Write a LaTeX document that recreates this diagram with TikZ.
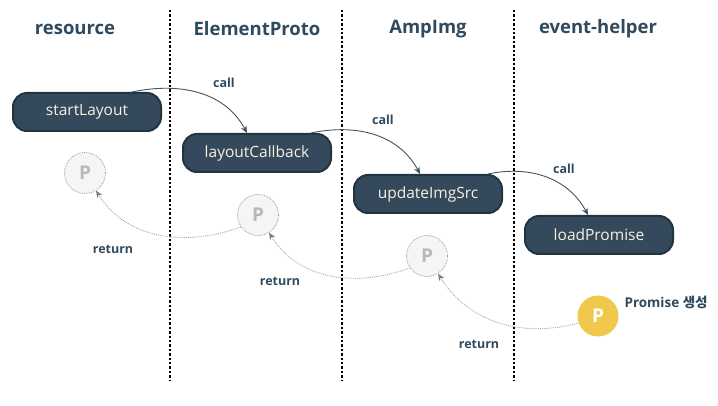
\documentclass[tikz,border=0pt]{standalone}
\usepackage{fontspec}
\setmainfont{Open Sans}
\newfontfamily\krfont{Noto Sans CJK KR}
\usetikzlibrary{arrows.meta}
\definecolor{slate}{HTML}{34495B}
\definecolor{slateedge}{HTML}{22343F}
\definecolor{titlecol}{HTML}{2F4A5E}
\definecolor{boxtext}{HTML}{F7F2E2}
\definecolor{callcol}{HTML}{3D5566}
\definecolor{retcol}{HTML}{A0AAB0}
\definecolor{rettip}{HTML}{6E7F8A}
\definecolor{pyellow}{HTML}{F0C94C}
\tikzset{
  x=1pt, y=-1pt,
  lane/.style={line width=2.6pt, dash pattern=on 2.4pt off 2pt, black},
  title/.style={font=\fontsize{18.5}{20}\selectfont\bfseries, text=titlecol},
  fn/.style={draw=slateedge, line width=2pt, fill=slate, rounded corners=14pt,
    minimum width=148pt, minimum height=38pt, text=boxtext, font=\fontsize{15.5}{17}\selectfont},
  pgray/.style={circle, draw=gray!80, densely dotted, line width=0.8pt, fill=black!4,
    minimum size=41pt, inner sep=0pt, text=black!28, font=\fontsize{19}{19}\selectfont\bfseries},
  pyel/.style={circle, fill=pyellow, minimum size=41pt, inner sep=0pt, text=white,
    font=\fontsize{19}{19}\selectfont\bfseries},
  callarr/.style={draw=callcol, line width=0.9pt, -{Stealth[length=7pt,width=6pt]}},
  retarr/.style={draw=retcol, line width=0.9pt, densely dotted, -{Stealth[length=7pt,width=6pt,color=rettip]}},
  lbl/.style={text=titlecol, font=\fontsize{12.5}{15}\selectfont\bfseries},
}
\begin{document}
\begin{tikzpicture}
\useasboundingbox (0,0) rectangle (718,406);
% lanes
\coordinate (l1t) at (170,10); \coordinate (l1b) at (170,380);
\coordinate (l2t) at (342,10); \coordinate (l2b) at (342,380);
\coordinate (l3t) at (514,10); \coordinate (l3b) at (514,380);
\draw[lane] (l1t) -- (l1b);
\draw[lane] (l2t) -- (l2b);
\draw[lane] (l3t) -- (l3b);
% titles
\node[title] (t1) at (75,29) {resource};
\node[title] (t2) at (257,29) {ElementProto};
\node[title] (t3) at (428,29) {AmpImg};
\node[title] (t4) at (598,29) {event-helper};
% function boxes
\node[fn] (sl) at (87,112) {startLayout};
\node[fn] (lc) at (257,153) {layoutCallback};
\node[fn] (uis) at (428,194) {updateImgSrc};
\node[fn] (lp) at (599,235) {loadPromise};
% promise circles
\node[pgray] (p1) at (85,173) {P};
\node[pgray] (p2) at (258,215) {P};
\node[pgray] (p3) at (427,256) {P};
\node[pyel] (p4) at (598,316) {P};
\node[lbl, anchor=west, font=\fontsize{13.5}{15}\selectfont\bfseries] (pl) at (621,302) {Promise {\krfont\bfseries 생성}};
% call arrows
\draw[callarr] ([xshift=45pt]sl.north) to[out=12,in=118] ([xshift=-10pt]lc.north);
\draw[callarr] ([xshift=54pt]lc.north) to[out=12,in=118] ([xshift=-8pt]uis.north);
\draw[callarr] ([xshift=60pt]uis.north) to[out=12,in=118] ([xshift=-11pt]lp.north);
\node[lbl] (c1) at (224,83) {call};
\node[lbl] (c2) at (383,120) {call};
\node[lbl] (c3) at (564,169) {call};
% return arrows
\draw[retarr] (p2.215) to[out=200,in=-58] (p1.-58);
\draw[retarr] (p3.215) to[out=200,in=-58] (p2.-58);
\draw[retarr] (p4.200) to[out=195,in=-58] (p3.-58);
\node[lbl] (r1) at (113,249) {return};
\node[lbl] (r2) at (280,281) {return};
\node[lbl] (r3) at (479,344) {return};
\end{tikzpicture}
\end{document}
